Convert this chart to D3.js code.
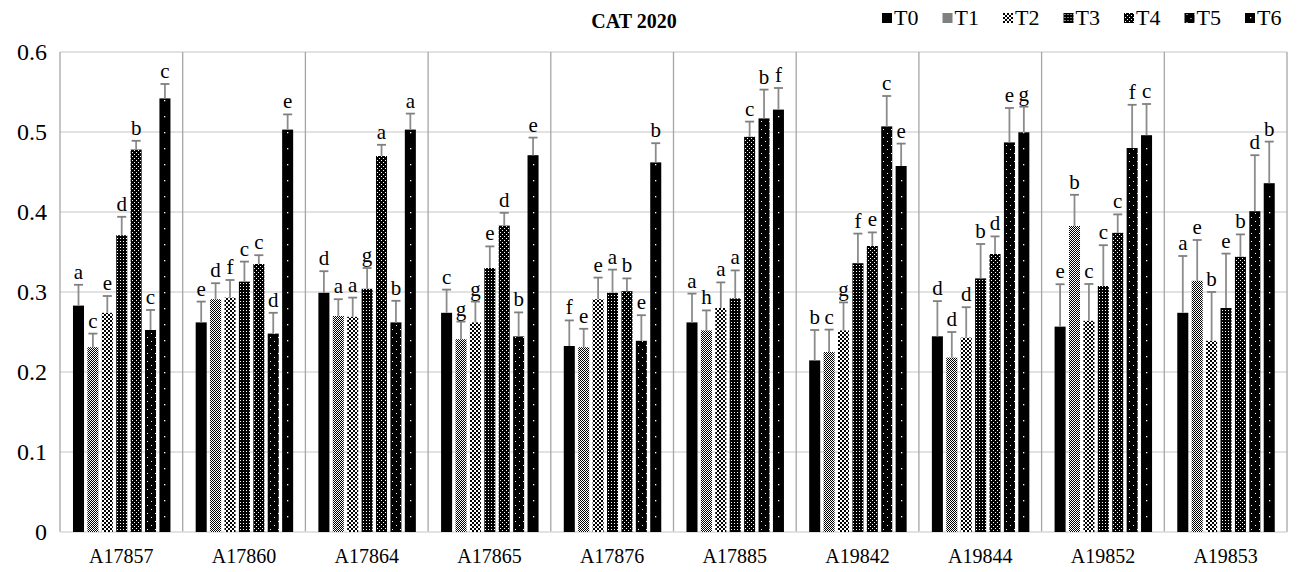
<!DOCTYPE html>
<html><head><meta charset="utf-8">
<script src="https://cdn.jsdelivr.net/npm/d3@7"></script>
<style>body{margin:0;background:#fff}svg{display:block}</style>
</head><body><svg id="c" width="1301" height="572"></svg>
<script>
const categories = ["A17857","A17860","A17864","A17865","A17876","A17885","A19842","A19844","A19852","A19853"];
const seriesNames = ["T0","T1","T2","T3","T4","T5","T6"];
const T0 = [0.283,0.262,0.299,0.274,0.2325,0.262,0.2145,0.2446,0.2567,0.274];
const T1 = [0.231,0.291,0.270,0.241,0.231,0.252,0.225,0.218,0.3825,0.314];
const T2 = [0.274,0.293,0.269,0.262,0.291,0.280,0.252,0.243,0.264,0.239];
const T3 = [0.371,0.313,0.304,0.330,0.299,0.292,0.336,0.317,0.3075,0.280];
const T4 = [0.478,0.335,0.470,0.383,0.301,0.494,0.3575,0.3475,0.374,0.344];
const T5 = [0.2525,0.248,0.262,0.2445,0.239,0.517,0.507,0.487,0.480,0.401];
const T6 = [0.542,0.503,0.503,0.471,0.462,0.528,0.4575,0.4996,0.496,0.436];
const T0err = [0.026,0.026,0.027,0.029,0.032,0.036,0.038,0.044,0.053,0.071];
const T1err = [0.017,0.020,0.021,0.022,0.023,0.025,0.028,0.032,0.039,0.051];
const T2err = [0.021,0.022,0.024,0.026,0.027,0.032,0.035,0.038,0.046,0.061];
const T3err = [0.023,0.025,0.026,0.027,0.029,0.035,0.037,0.043,0.051,0.068];
const T4err = [0.011,0.011,0.014,0.016,0.016,0.019,0.017,0.022,0.023,0.028];
const T5err = [0.025,0.026,0.027,0.030,0.032,0.036,0.038,0.043,0.054,0.070];
const T6err = [0.018,0.019,0.020,0.022,0.024,0.027,0.028,0.032,0.039,0.052];
const T0let = ["a","e","d","c","f","a","b","d","e","a"];
const T1let = ["c","d","a","g","e","h","c","d","b","e"];
const T2let = ["e","f","a","g","e","a","g","d","c","b"];
const T3let = ["d","c","g","e","a","a","f","b","c","e"];
const T4let = ["b","c","a","d","b","c","e","d","c","b"];
const T5let = ["c","d","b","b","e","b","c","e","f","d"];
const T6let = ["c","e","a","e","b","f","e","g","c","b"];
const yTicks = [0,0.1,0.2,0.3,0.4,0.5,0.6];
const title = "CAT 2020";

const vals = [T0,T1,T2,T3,T4,T5,T6];
const errs = [T0err,T1err,T2err,T3err,T4err,T5err,T6err];
const lets = [T0let,T1let,T2let,T3let,T4let,T5let,T6let];
const FONT = "Liberation Serif";

const svg = d3.select("#c");
const L = 60, R = 1287, T = 52, B = 532;
const x0 = d3.scaleBand().domain(categories).range([L, R]).padding(0);
const bw0 = x0.bandwidth();
const x1 = d3.scaleBand().domain(seriesNames).range([bw0*0.092, bw0*0.914]).paddingInner(0.235).paddingOuter(0.1175);
const y = d3.scaleLinear().domain([0, 0.6]).range([B, T]);

const defs = svg.append("defs");
function makePattern(id, si, ox, oy) {
  const specs = [
    null,
    {w:2,h:2,bg:"#fff",dots:[[0,0,1,1],[1,1,1,1]],fg:"#000"},
    {w:4,h:4,bg:"#fff",dots:[[0,0,2,2],[2,2,2,2]],fg:"#000"},
    {w:3,h:3,bg:"#000",dots:[[1,1,1,1]],fg:"#fff"},
    {w:4,h:4,bg:"#000",dots:[[1,0,1,1],[3,2,1,1]],fg:"#fff"},
    {w:8,h:8,bg:"#000",dots:[[2,1,1,1],[6,5,1,1]],fg:"#fff"},
    {w:16,h:16,bg:"#000",dots:[[5,4,1.3,1.3]],fg:"#fff"}
  ];
  const s = specs[si];
  if (!s) return;
  const p = defs.append("pattern").attr("id", id).attr("patternUnits","userSpaceOnUse")
    .attr("x", ox).attr("y", oy).attr("width", s.w).attr("height", s.h);
  p.append("rect").attr("width", s.w).attr("height", s.h).attr("fill", s.bg);
  s.dots.forEach(d => p.append("rect").attr("x", d[0]).attr("y", d[1]).attr("width", d[2]).attr("height", d[3]).attr("fill", s.fg));
}

svg.append("g").selectAll("line").data(yTicks.slice(1)).join("line")
  .attr("x1", L).attr("x2", R).attr("y1", d => y(d)).attr("y2", d => y(d))
  .attr("stroke", "#d9d9d9").attr("stroke-width", 1.3);
const seps = categories.map(c => x0(c)).concat([R]);
svg.append("g").selectAll("line").data(seps).join("line")
  .attr("x1", d => d).attr("x2", d => d).attr("y1", T).attr("y2", B)
  .attr("stroke", "#a6a6a6").attr("stroke-width", 1.3);
svg.append("line").attr("x1", L).attr("x2", R).attr("y1", B).attr("y2", B).attr("stroke", "#d9d9d9").attr("stroke-width", 1.3);

const gBars = svg.append("g");
categories.forEach((c, ci) => {
  seriesNames.forEach((s, si) => {
    const bx = x0(c) + x1(s);
    const v = vals[si][ci];
    let fill = "#000";
    if (si > 0) {
      const id = "p" + si + "_" + ci;
      makePattern(id, si, Math.round(bx), 0);
      fill = "url(#" + id + ")";
    }
    gBars.append("rect").attr("x", bx).attr("y", y(v)).attr("width", x1.bandwidth())
      .attr("height", B - y(v)).attr("fill", fill);
    const cx = bx + x1.bandwidth()/2;
    const top = y(v + errs[si][ci]);
    gBars.append("line").attr("x1", cx).attr("x2", cx).attr("y1", y(v)).attr("y2", top)
      .attr("stroke", "#8c8c8c").attr("stroke-width", 1.8);
    gBars.append("line").attr("x1", cx - 4.5).attr("x2", cx + 4.5).attr("y1", top).attr("y2", top)
      .attr("stroke", "#7f7f7f").attr("stroke-width", 1.8);
    gBars.append("text").attr("x", cx).attr("y", top - 6).attr("text-anchor", "middle")
      .attr("font-family", FONT).attr("font-size", 21).attr("fill", "#000").text(lets[si][ci]);
  });
});

svg.append("g").selectAll("text").data(yTicks).join("text")
  .attr("x", 47).attr("y", d => y(d)).attr("dy", "0.35em").attr("text-anchor", "end")
  .attr("font-family", FONT).attr("font-size", 24).text(d => d === 0 ? "0" : d3.format(".1f")(d));
svg.append("g").selectAll("text").data(categories).join("text")
  .attr("x", d => x0(d) + bw0/2).attr("y", 563).attr("text-anchor", "middle")
  .attr("font-family", FONT).attr("font-size", 20).text(d => d);

svg.append("text").attr("x", 634).attr("y", 28).attr("text-anchor", "middle")
  .attr("font-family", FONT).attr("font-size", 20).attr("font-weight", "bold").text(title);

const lg = svg.append("g");
seriesNames.forEach((s, si) => {
  const lx = 882 + si * 60.5;
  let fill = "#000";
  if (si > 0) { makePattern("lg" + si, si, lx, 13); fill = "url(#lg" + si + ")"; }
  lg.append("rect").attr("x", lx).attr("y", 13).attr("width", 10).attr("height", 10).attr("fill", fill);
  lg.append("text").attr("x", lx + 12).attr("y", 25).attr("font-family", FONT).attr("font-size", 22).text(s);
});
</script></body></html>
